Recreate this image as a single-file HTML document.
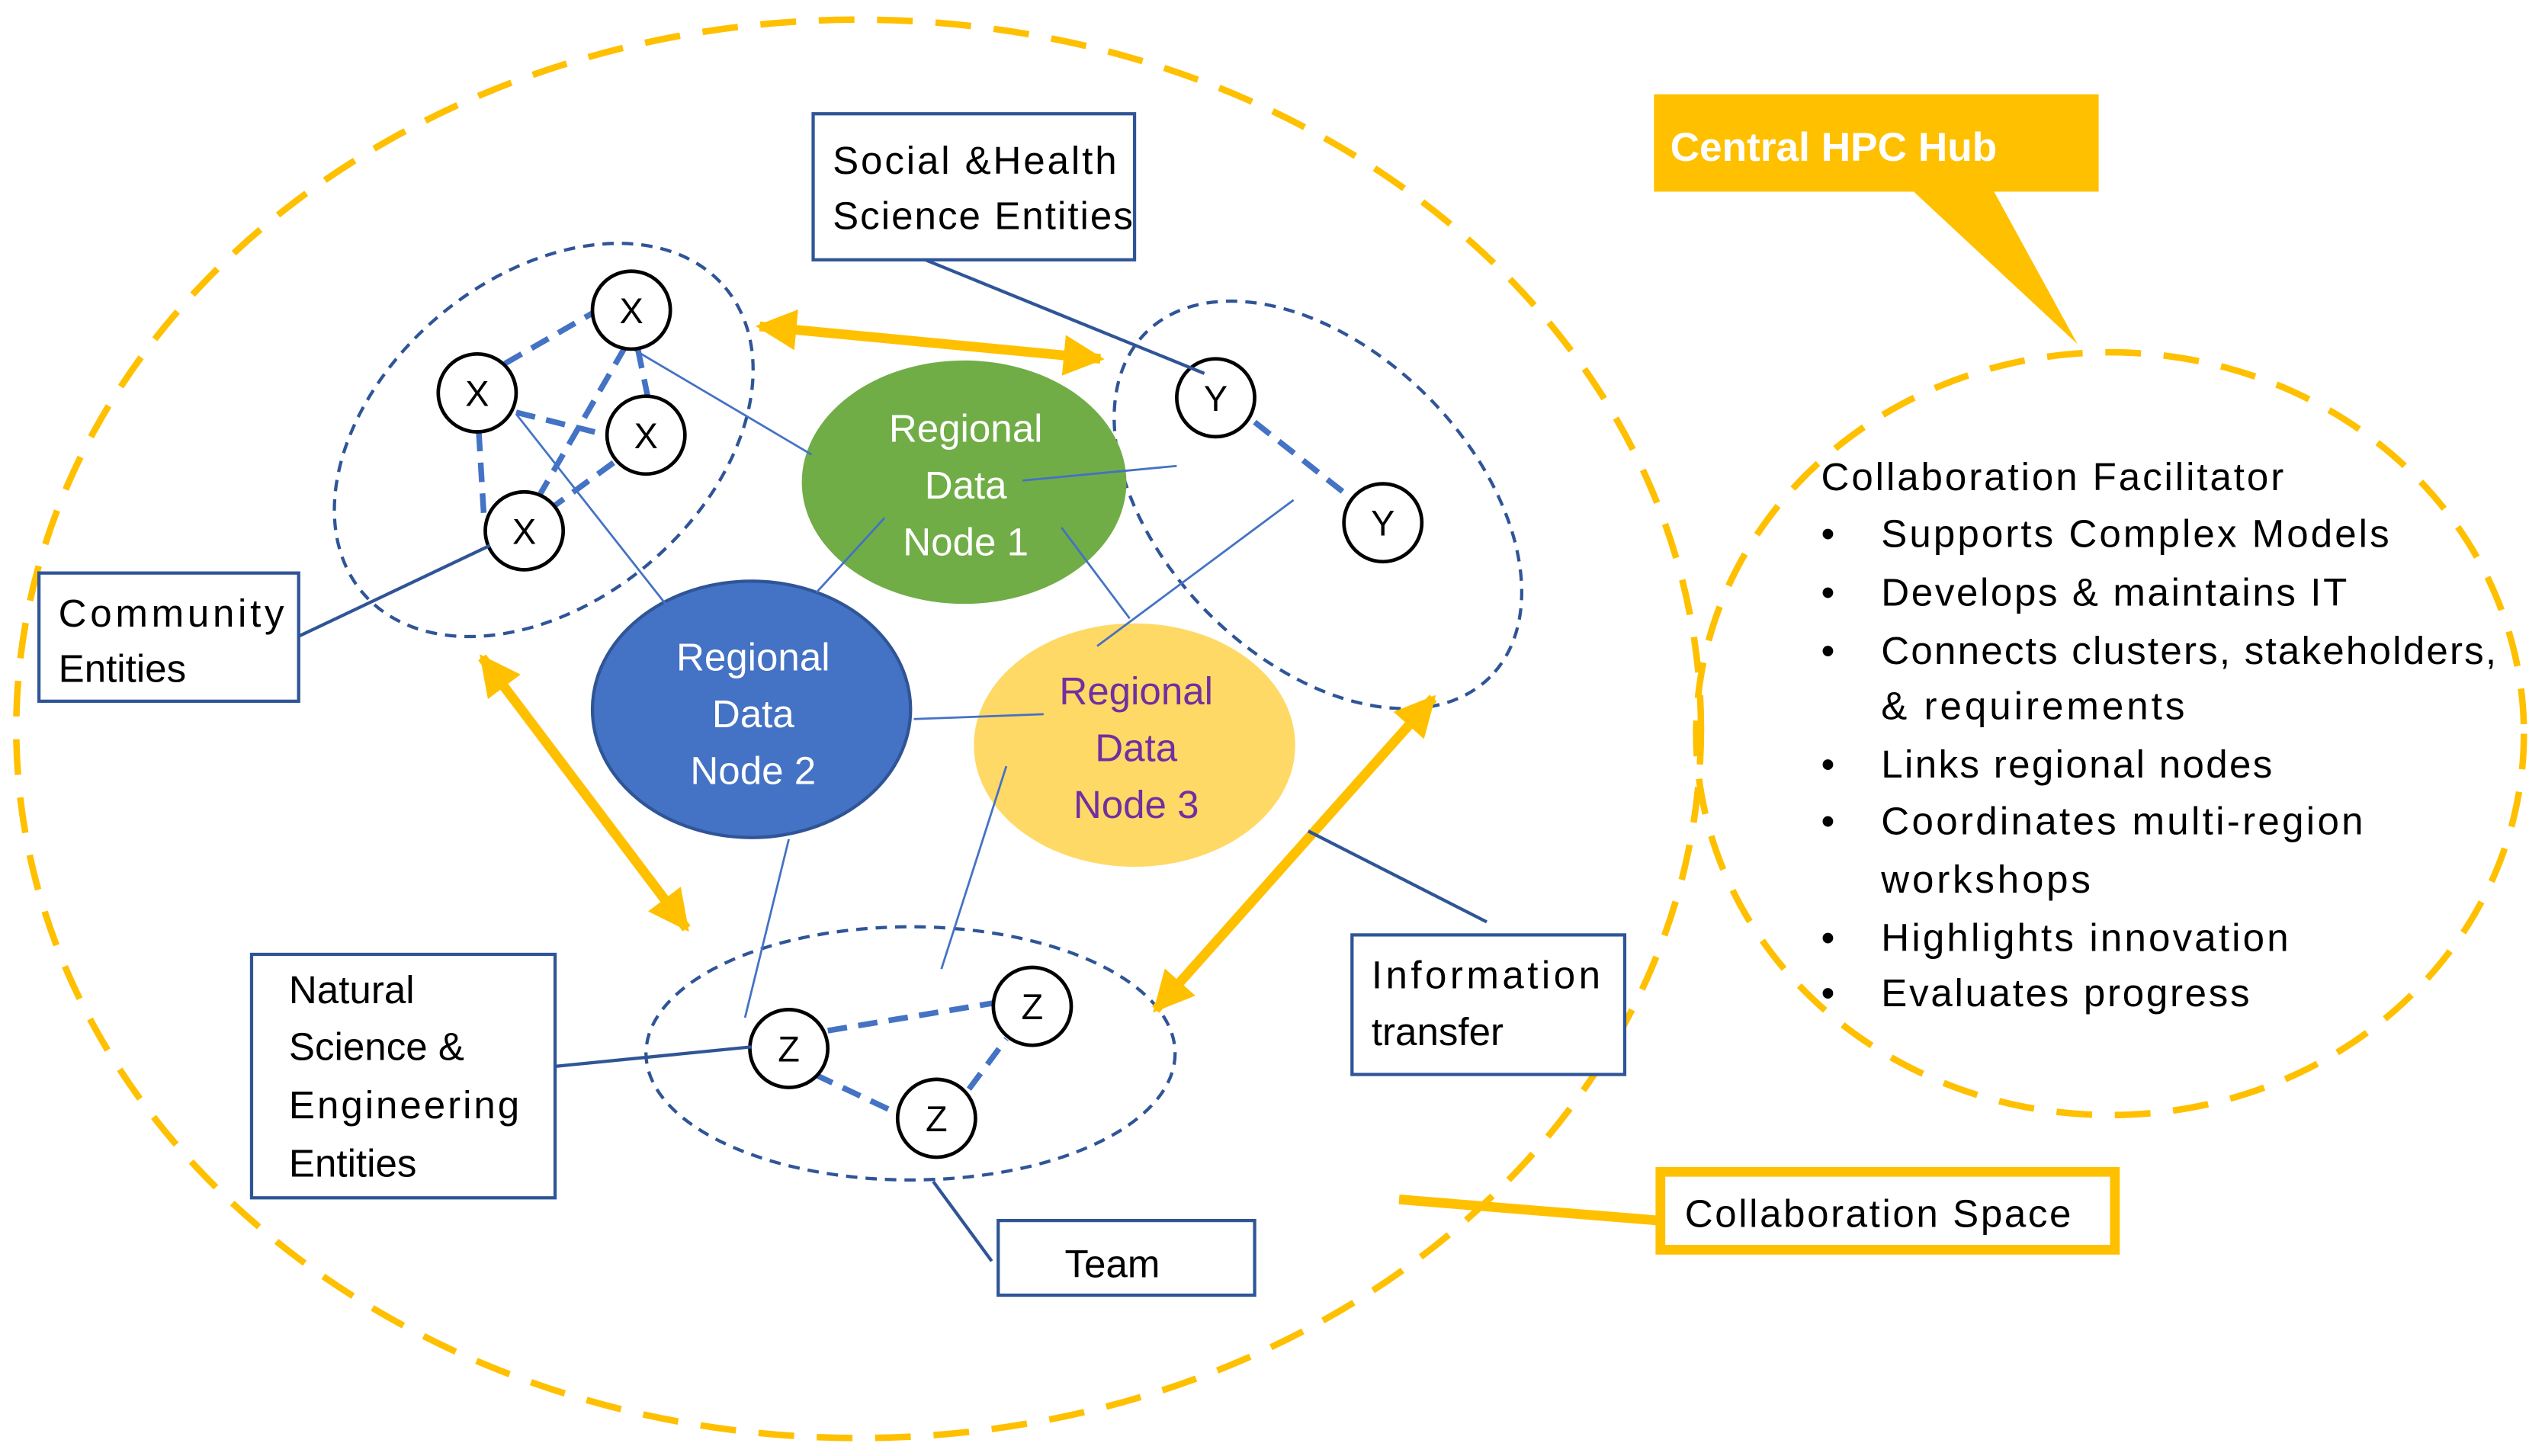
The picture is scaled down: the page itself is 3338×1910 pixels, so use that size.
<!DOCTYPE html>
<html><head><meta charset="utf-8"><style>
html,body{margin:0;padding:0;background:#fff}
svg{display:block}
text{font-family:"Liberation Sans","DejaVu Sans",sans-serif}
</style></head><body>
<svg width="3338" height="1910" viewBox="0 0 1568 897" xmlns="http://www.w3.org/2000/svg">
<defs>
<marker id="ah" viewBox="0 0 10 10" refX="9" refY="5" markerWidth="4.2" markerHeight="4.2" orient="auto-start-reverse" markerUnits="strokeWidth">
<path d="M0,0 L10,5 L0,10 z" fill="#FFC000"/></marker>
</defs>
<rect width="1568" height="897" fill="#fff"/>
<ellipse cx="529" cy="449" rx="519" ry="437" fill="none" stroke="#FFC000" stroke-width="4" stroke-dasharray="22,14"/>
<ellipse cx="1300" cy="452" rx="255" ry="235" fill="none" stroke="#FFC000" stroke-width="4" stroke-dasharray="22,14"/>
<polygon points="1178,117 1228,117 1280,212" fill="#FFC000"/>
<rect x="1019" y="58" width="274" height="60" fill="#FFC000"/>
<text x="1029" y="99" font-size="25" font-weight="bold" fill="#fff">Central HPC  Hub</text>
<line x1="862" y1="739" x2="1022" y2="752" stroke="#FFC000" stroke-width="6"/>
<rect x="1023" y="722" width="280" height="48" fill="#fff" stroke="#FFC000" stroke-width="6"/>
<text x="1038" y="756" font-size="24" fill="#000" textLength="238">Collaboration Space</text>
<g font-size="24" fill="#000">
<text x="1122" y="302" textLength="285">Collaboration Facilitator</text>
<text x="1122" y="337">•</text><text x="1159" y="337" textLength="313">Supports Complex Models</text>
<text x="1122" y="373">•</text><text x="1159" y="373" textLength="287">Develops &amp; maintains IT</text>
<text x="1122" y="409">•</text><text x="1159" y="409" textLength="379">Connects clusters, stakeholders,</text>
<text x="1159" y="443" textLength="187">&amp; requirements</text>
<text x="1122" y="479">•</text><text x="1159" y="479" textLength="241">Links regional nodes</text>
<text x="1122" y="514">•</text><text x="1159" y="514" textLength="297">Coordinates multi-region</text>
<text x="1159" y="550" textLength="129">workshops</text>
<text x="1122" y="586">•</text><text x="1159" y="586" textLength="251">Highlights innovation</text>
<text x="1122" y="620">•</text><text x="1159" y="620" textLength="227">Evaluates  progress</text>
</g>
<g fill="none" stroke="#2F5597" stroke-width="2" stroke-dasharray="7,5">
<ellipse cx="335" cy="271" rx="146" ry="100" transform="rotate(-40 335 271)"/>
<ellipse cx="812" cy="311" rx="150" ry="95" transform="rotate(45 812 311)"/>
<ellipse cx="561" cy="649" rx="163" ry="78"/>
</g>
<ellipse cx="594" cy="297" rx="100" ry="75" fill="#70AD47"/>
<ellipse cx="463" cy="437" rx="98" ry="79" fill="#4472C4" stroke="#2F5597" stroke-width="2"/>
<ellipse cx="699" cy="459" rx="99" ry="75" fill="#FFD966"/>
<g font-size="24" text-anchor="middle">
<text x="595" y="272" fill="#fff">Regional</text><text x="595" y="307" fill="#fff">Data</text><text x="595" y="342" fill="#fff">Node 1</text>
<text x="464" y="413" fill="#fff">Regional</text><text x="464" y="448" fill="#fff">Data</text><text x="464" y="483" fill="#fff">Node 2</text>
<text x="700" y="434" fill="#7030A0">Regional</text><text x="700" y="469" fill="#7030A0">Data</text><text x="700" y="504" fill="#7030A0">Node 3</text>
</g>
<g stroke="#4472C4" stroke-width="1.3">
<line x1="390" y1="215" x2="500" y2="280"/>
<line x1="318" y1="255" x2="410" y2="372"/>
<line x1="503" y1="365" x2="545" y2="319"/>
<line x1="630" y1="296" x2="725" y2="287"/>
<line x1="654" y1="325" x2="696" y2="381"/>
<line x1="676" y1="398" x2="797" y2="308"/>
<line x1="563" y1="443" x2="643" y2="440"/>
<line x1="486" y1="517" x2="459" y2="627"/>
<line x1="620" y1="472" x2="580" y2="597"/>
</g>
<g stroke="#4472C4" stroke-width="3.5" stroke-dasharray="12,7">
<line x1="311" y1="224" x2="370" y2="190"/>
<line x1="385" y1="214" x2="333" y2="304"/>
<line x1="393" y1="215" x2="399" y2="244"/>
<line x1="318" y1="254" x2="374" y2="268"/>
<line x1="295" y1="266" x2="298" y2="316"/>
<line x1="378" y1="285" x2="341" y2="312"/>
<line x1="773" y1="260" x2="830" y2="305"/>
<line x1="510" y1="635" x2="612" y2="618"/>
<line x1="502" y1="662" x2="555" y2="687"/>
<line x1="597" y1="671" x2="620" y2="640"/>
</g>
<g fill="#fff" stroke="#000" stroke-width="2.2">
<circle cx="389" cy="191" r="24"/><circle cx="294" cy="242" r="24"/><circle cx="398" cy="268" r="24"/><circle cx="323" cy="327" r="24"/>
<circle cx="749" cy="245" r="24"/><circle cx="852" cy="322" r="24"/>
<circle cx="486" cy="646" r="24"/><circle cx="636" cy="620" r="24"/><circle cx="577" cy="689" r="24"/>
</g>
<g font-size="22" text-anchor="middle" fill="#000">
<text x="389" y="199">X</text><text x="294" y="250">X</text><text x="398" y="276">X</text><text x="323" y="335">X</text>
<text x="749" y="253">Y</text><text x="852" y="330">Y</text>
<text x="486" y="654">Z</text><text x="636" y="628">Z</text><text x="577" y="697">Z</text>
</g>
<g stroke="#FFC000" stroke-width="6" marker-start="url(#ah)" marker-end="url(#ah)">
<line x1="468" y1="201" x2="678" y2="221"/>
<line x1="297" y1="405" x2="423" y2="572"/>
<line x1="883" y1="430" x2="712" y2="622"/>
</g>
<g stroke="#2F5597" stroke-width="2" fill="#fff">
<line x1="570" y1="160" x2="742" y2="230"/>
<line x1="184" y1="392" x2="302" y2="336"/>
<line x1="342" y1="657" x2="463" y2="645"/>
<line x1="916" y1="568" x2="806" y2="512"/>
<line x1="611" y1="777" x2="575" y2="728"/>
<rect x="501" y="70" width="198" height="90"/>
<rect x="24" y="353" width="160" height="79"/>
<rect x="155" y="588" width="187" height="150"/>
<rect x="833" y="576" width="168" height="86"/>
<rect x="615" y="752" width="158" height="46"/>
</g>
<g font-size="24" fill="#000">
<text x="513" y="107" textLength="175">Social &amp;Health</text><text x="513" y="141" textLength="185">Science Entities</text>
<text x="36" y="386" textLength="139">Community</text><text x="36" y="420">Entities</text>
<text x="178" y="618">Natural</text><text x="178" y="653">Science &amp;</text><text x="178" y="689" textLength="142">Engineering</text><text x="178" y="725">Entities</text>
<text x="845" y="609" textLength="141">Information</text><text x="845" y="644">transfer</text>
<text x="656" y="787">Team</text>
</g>
</svg>
</body></html>
